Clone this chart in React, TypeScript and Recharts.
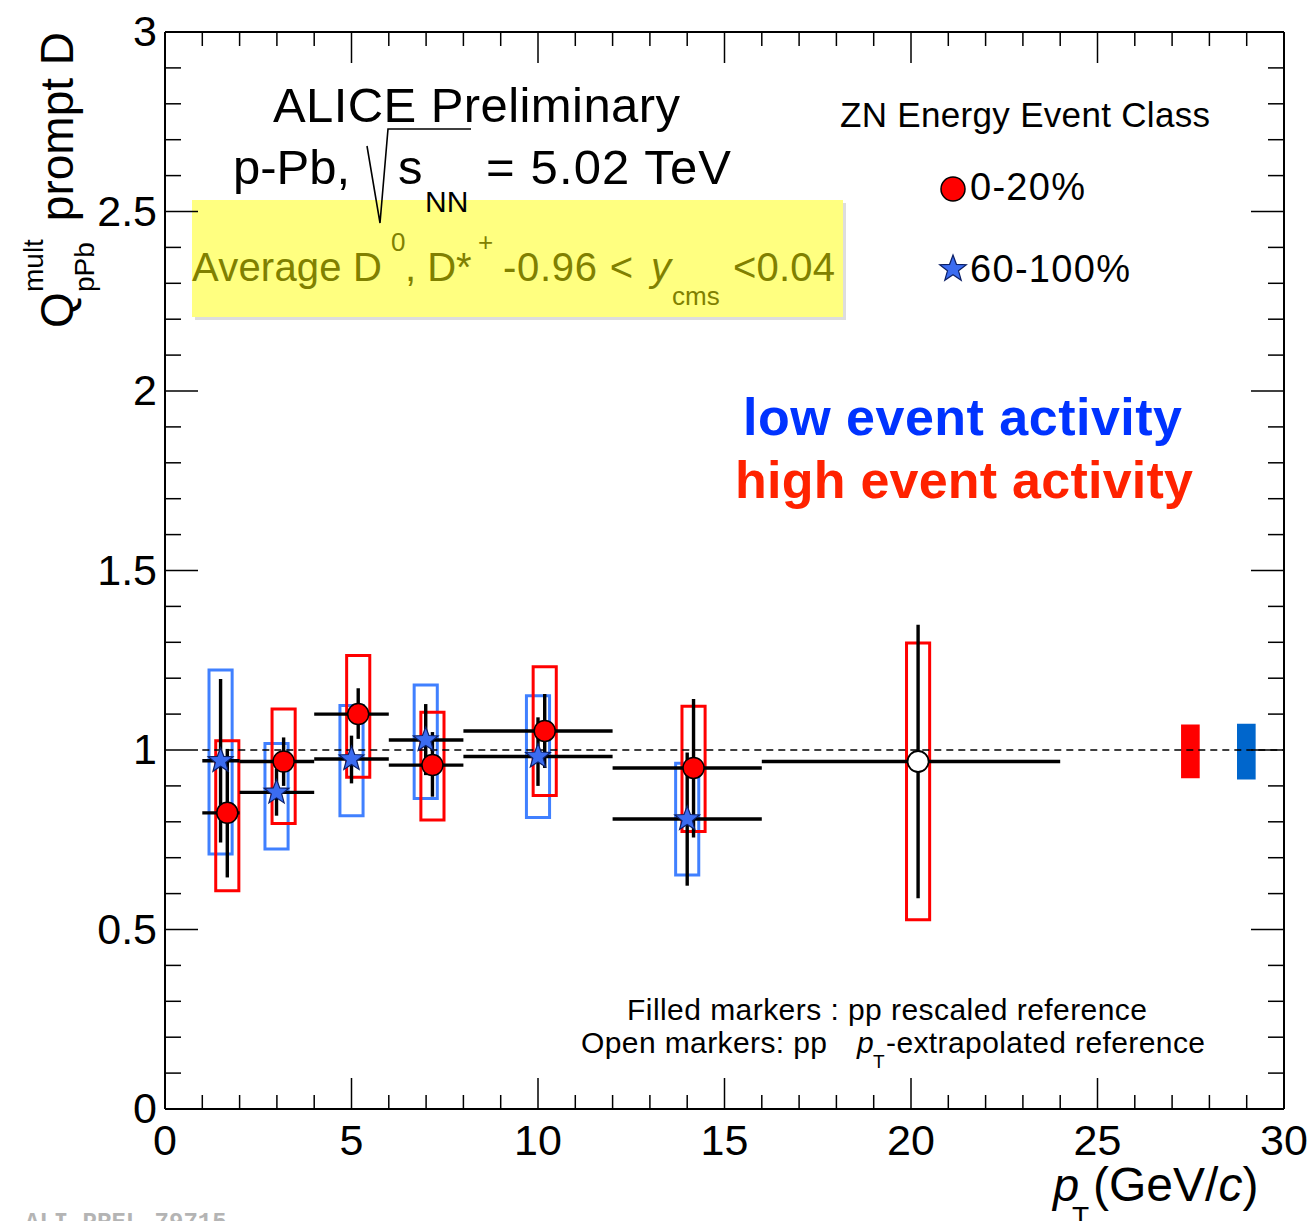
import React from "react";
import {
  ScatterChart,
  Scatter,
  XAxis,
  YAxis,
  ErrorBar,
  ReferenceArea,
  ReferenceLine,
} from "recharts";

const FONT = "'Liberation Sans', Arial, Helvetica, sans-serif";

// pT bins (GeV/c)
const binLow = [1, 2, 4, 6, 8, 12];
const binHigh = [2, 4, 6, 8, 12, 16];

// ZN 0-20% (high event activity), pp rescaled reference
const highPt = [1.67, 3.18, 5.18, 7.17, 10.18, 14.17];
const highQ = [0.825, 0.968, 1.1, 0.958, 1.053, 0.95];
const highStatLo = [0.645, 0.9, 1.031, 0.87, 0.95, 0.756];
const highStatHi = [1.003, 1.035, 1.172, 1.05, 1.156, 1.142];
const highSysLo = [0.608, 0.795, 0.924, 0.805, 0.873, 0.773];
const highSysHi = [1.026, 1.114, 1.263, 1.105, 1.232, 1.122];

// ZN 60-100% (low event activity)
const lowPt = [1.49, 2.99, 5.0, 6.99, 10.0, 14.0];
const lowQ = [0.97, 0.882, 0.975, 1.028, 0.982, 0.808];
const lowStatLo = [0.742, 0.817, 0.907, 0.93, 0.9, 0.622];
const lowStatHi = [1.198, 0.947, 1.04, 1.128, 1.091, 0.993];
const lowSysLo = [0.71, 0.724, 0.817, 0.865, 0.812, 0.652];
const lowSysHi = [1.223, 1.018, 1.124, 1.181, 1.151, 0.963];

// ZN 0-20%, pp pT-extrapolated reference (open marker)
const extBinLow = [16];
const extBinHigh = [24];
const extPt = [20.19];
const extQ = [0.968];
const extStatLo = [0.587];
const extStatHi = [1.349];
const extSysLo = [0.527];
const extSysHi = [1.298];

// normalisation uncertainties (0-20%, 60-100%)
const normPt = [27.49, 28.99];
const normLo = [0.921, 0.918];
const normHi = [1.071, 1.073];

const xTicks = Array.from({ length: 31 }, (_, i) => i);
const yTicks = Array.from({ length: 31 }, (_, i) => i / 10);

const SYS_HALF = 0.31;
const NORM_HALF = 0.25;

const makeRows = (
  xs: number[], ys: number[], lo: number[], hi: number[],
  sLo: number[], sHi: number[], bLo: number[], bHi: number[]
) =>
  xs.map((x, i) => ({
    pt: x,
    q: ys[i],
    xErr: [x - bLo[i], bHi[i] - x],
    yErr: [ys[i] - lo[i], hi[i] - ys[i]],
    sysLo: sLo[i],
    sysHi: sHi[i],
  }));

const highRows = makeRows(highPt, highQ, highStatLo, highStatHi, highSysLo, highSysHi, binLow, binHigh);
const lowRows = makeRows(lowPt, lowQ, lowStatLo, lowStatHi, lowSysLo, lowSysHi, binLow, binHigh);
const extRows = makeRows(extPt, extQ, extStatLo, extStatHi, extSysLo, extSysHi, extBinLow, extBinHigh);

const starPath = (cx: number, cy: number, R: number, r: number) => {
  let d = "";
  for (let i = 0; i < 10; i++) {
    const rad = i % 2 === 0 ? R : r;
    const a = -Math.PI / 2 + (i * Math.PI) / 5;
    d += (i === 0 ? "M" : "L") + (cx + rad * Math.cos(a)).toFixed(2) + "," + (cy + rad * Math.sin(a)).toFixed(2);
  }
  return d + "Z";
};

const RedDot = (p: any) => (
  <circle cx={p.cx} cy={p.cy} r={10.5} fill="#ff0000" stroke="#000" strokeWidth={1.5} />
);
const OpenDot = (p: any) => (
  <circle cx={p.cx} cy={p.cy} r={10.5} fill="#fff" stroke="#000" strokeWidth={1.8} />
);
const BlueStar = (p: any) => (
  <path d={starPath(p.cx, p.cy, 13, 5.5)} fill="#3b6cf0" stroke="#0b1f66" strokeWidth={1.2} />
);

const isMajorX = (v: number) => v % 5 === 0;
const isMajorY = (v: number) => Math.abs(v * 2 - Math.round(v * 2)) < 1e-6;

const BottomTick = (props: any) => {
  const { x, y, payload } = props;
  const v = payload.value;
  const major = isMajorX(v);
  return (
    <g>
      <line x1={x} y1={y} x2={x} y2={y - (major ? 31 : 14)} stroke="#000" strokeWidth={1.5} />
      {major && (
        <text x={x} y={y + 46} textAnchor="middle" fontSize={43} fontFamily={FONT} fill="#000">
          {v}
        </text>
      )}
    </g>
  );
};

const TopTick = (props: any) => {
  const { x, y, payload } = props;
  const major = isMajorX(payload.value);
  return <line x1={x} y1={y} x2={x} y2={y + (major ? 31 : 14)} stroke="#000" strokeWidth={1.5} />;
};

const LeftTick = (props: any) => {
  const { x, y, payload } = props;
  const v = payload.value;
  const major = isMajorY(v);
  return (
    <g>
      <line x1={x} y1={y} x2={x + (major ? 33 : 16)} y2={y} stroke="#000" strokeWidth={1.5} />
      {major && (
        <text x={x - 8} y={y + 14} textAnchor="end" fontSize={43} fontFamily={FONT} fill="#000">
          {String(Math.round(v * 10) / 10)}
        </text>
      )}
    </g>
  );
};

const RightTick = (props: any) => {
  const { x, y, payload } = props;
  const major = isMajorY(payload.value);
  return <line x1={x} y1={y} x2={x - (major ? 33 : 16)} y2={y} stroke="#000" strokeWidth={1.5} />;
};

const Annotations = () => (
  <svg width={1316} height={1221} style={{ position: "absolute", left: 0, top: 0 }}>
    {/* yellow info box */}
    <rect x={195} y={203} width={651} height={117} fill="#bbbbbb" opacity={0.5} />
    <rect x={192} y={200} width={651} height={117} fill="#ffff80" />
    <g fontFamily={FONT} fill="#808000">
      <text x={192} y={281} fontSize={40} textLength={190} lengthAdjust="spacing">Average D</text>
      <text x={391} y={251} fontSize={26}>0</text>
      <text x={405} y={281} fontSize={40}>, D*</text>
      <text x={478} y={251} fontSize={26}>+</text>
      <text x={503} y={281} fontSize={40} textLength={130} lengthAdjust="spacing">-0.96 &lt;</text>
      <text x={651} y={281} fontSize={40} fontStyle="italic">y</text>
      <text x={672} y={305} fontSize={26}>cms</text>
      <text x={733} y={281} fontSize={40} textLength={102} lengthAdjust="spacing">&lt;0.04</text>
    </g>

    <g fontFamily={FONT} fill="#000">
      <text x={273} y={122} fontSize={49} textLength={407} lengthAdjust="spacing">ALICE Preliminary</text>
      <text x={233} y={184} fontSize={49}>p-Pb,</text>
      <path d="M367,146 L380,223 L388,129 L471,129" fill="none" stroke="#000" strokeWidth={1.6} />
      <text x={398} y={184} fontSize={49}>s</text>
      <text x={425} y={212} fontSize={30}>NN</text>
      <text x={486} y={184} fontSize={49} textLength={245} lengthAdjust="spacing">= 5.02 TeV</text>

      <text x={840} y={127} fontSize={35} textLength={370} lengthAdjust="spacing">ZN Energy Event Class</text>
      <circle cx={953} cy={189} r={12} fill="#ff0000" stroke="#000" strokeWidth={1.5} />
      <text x={970} y={200} fontSize={38} textLength={115} lengthAdjust="spacing">0-20%</text>
      <path d={starPath(953, 269, 14, 5.8)} fill="#3b6cf0" stroke="#0b1f66" strokeWidth={1.2} />
      <text x={970} y={282} fontSize={38} textLength={160} lengthAdjust="spacing">60-100%</text>

      <text x={743} y={435} fontSize={52} fontWeight="bold" fill="#0033ff" textLength={439} lengthAdjust="spacing">low event activity</text>
      <text x={735} y={498} fontSize={52} fontWeight="bold" fill="#ff2200" textLength={458} lengthAdjust="spacing">high event activity</text>

      <text x={627} y={1020} fontSize={30} textLength={520} lengthAdjust="spacing">Filled markers : pp rescaled reference</text>
      <text x={581} y={1053} fontSize={30} textLength={246} lengthAdjust="spacing">Open markers: pp</text>
      <text x={857} y={1053} fontSize={30} fontStyle="italic">p</text>
      <text x={873} y={1068} fontSize={19}>T</text>
      <text x={886} y={1053} fontSize={30} textLength={319} lengthAdjust="spacing">-extrapolated reference</text>

      {/* x-axis title */}
      <text x={1053} y={1201} fontSize={47} fontStyle="italic">p</text>
      <text x={1072} y={1226} fontSize={28}>T</text>
      <text x={1093} y={1201} fontSize={48}>
        (GeV/<tspan fontStyle="italic">c</tspan>)
      </text>

      {/* y-axis title */}
      <g transform="translate(73,330) rotate(-90)">
        <text x={2} y={0} fontSize={46}>Q</text>
        <text x={38} y={-30} fontSize={28}>mult</text>
        <text x={38} y={21} fontSize={28}>pPb</text>
        <text x={298} y={0} fontSize={46} textAnchor="end">prompt D</text>
      </g>
    </g>

    <text x={25} y={1229} fontSize={24} fontWeight="bold" fontFamily="'Liberation Mono', 'DejaVu Sans Mono', monospace" fill="#b4b4b4">
      ALI-PREL-79715
    </text>
  </svg>
);

export default function App() {
  return (
    <div style={{ position: "relative", width: 1316, height: 1221, background: "#fff", overflow: "hidden" }}>
      <style>{"body{margin:0;}"}</style>
      <Annotations />
      <div style={{ position: "absolute", left: 0, top: 0 }}>
        <ScatterChart width={1316} height={1221} margin={{ top: 0, right: 31, bottom: 0, left: 0 }}>
          <XAxis
            type="number"
            dataKey="pt"
            domain={[0, 30]}
            ticks={xTicks}
            interval={0}
            height={112}
            tickSize={0}
            tickMargin={0}
            tickLine={false}
            tick={<BottomTick />}
            axisLine={{ stroke: "#000", strokeWidth: 2 }}
            allowDataOverflow
          />
          <XAxis
            xAxisId="top"
            orientation="top"
            type="number"
            dataKey="pt"
            domain={[0, 30]}
            ticks={xTicks}
            interval={0}
            height={32}
            tickSize={0}
            tickMargin={0}
            tickLine={false}
            tick={<TopTick />}
            axisLine={{ stroke: "#000", strokeWidth: 2 }}
            allowDataOverflow
          />
          <YAxis
            type="number"
            dataKey="q"
            domain={[0, 3]}
            ticks={yTicks}
            interval={0}
            width={165}
            tickSize={0}
            tickMargin={0}
            tickLine={false}
            tick={<LeftTick />}
            axisLine={{ stroke: "#000", strokeWidth: 2 }}
            allowDataOverflow
          />
          <YAxis
            yAxisId="right"
            orientation="right"
            type="number"
            dataKey="q"
            domain={[0, 3]}
            ticks={yTicks}
            interval={0}
            width={1}
            tickSize={0}
            tickMargin={0}
            tickLine={false}
            tick={<RightTick />}
            axisLine={{ stroke: "#000", strokeWidth: 2 }}
            allowDataOverflow
          />

          <ReferenceLine
            segment={[{ x: 1, y: 1 }, { x: 30, y: 1 }]}
            stroke="#000"
            strokeWidth={1.5}
            strokeDasharray="7 5"
          />

          {normPt.map((x, i) => (
            <ReferenceArea
              key={"norm" + i}
              x1={x - NORM_HALF}
              x2={x + NORM_HALF}
              y1={normLo[i]}
              y2={normHi[i]}
              fill={i === 0 ? "#ff0000" : "#0066cc"}
              fillOpacity={1}
              stroke="none"
            />
          ))}

          {lowRows.map((r, i) => (
            <ReferenceArea
              key={"lsys" + i}
              x1={r.pt - SYS_HALF}
              x2={r.pt + SYS_HALF}
              y1={r.sysLo}
              y2={r.sysHi}
              fill="none"
              stroke="#4080ff"
              strokeWidth={3}
            />
          ))}
          {[...highRows, ...extRows].map((r, i) => (
            <ReferenceArea
              key={"hsys" + i}
              x1={r.pt - SYS_HALF}
              x2={r.pt + SYS_HALF}
              y1={r.sysLo}
              y2={r.sysHi}
              fill="none"
              stroke="#ff0000"
              strokeWidth={3}
            />
          ))}

          <Scatter name="60-100%" data={lowRows} shape={BlueStar} isAnimationActive={false}>
            <ErrorBar direction="x" dataKey="xErr" width={0} stroke="#000" strokeWidth={3.4} isAnimationActive={false} />
            <ErrorBar direction="y" dataKey="yErr" width={0} stroke="#000" strokeWidth={3.4} isAnimationActive={false} />
          </Scatter>
          <Scatter name="0-20%" data={highRows} shape={RedDot} isAnimationActive={false}>
            <ErrorBar direction="x" dataKey="xErr" width={0} stroke="#000" strokeWidth={3.4} isAnimationActive={false} />
            <ErrorBar direction="y" dataKey="yErr" width={0} stroke="#000" strokeWidth={3.4} isAnimationActive={false} />
          </Scatter>
          <Scatter name="0-20% extrapolated" data={extRows} shape={OpenDot} isAnimationActive={false}>
            <ErrorBar direction="x" dataKey="xErr" width={0} stroke="#000" strokeWidth={3.4} isAnimationActive={false} />
            <ErrorBar direction="y" dataKey="yErr" width={0} stroke="#000" strokeWidth={3.4} isAnimationActive={false} />
          </Scatter>
        </ScatterChart>
      </div>
    </div>
  );
}
